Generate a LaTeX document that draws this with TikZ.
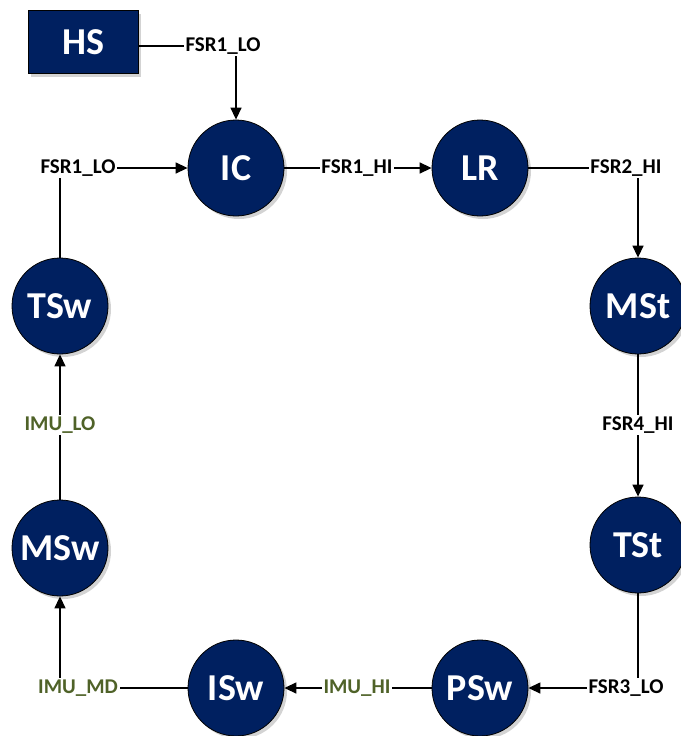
\documentclass[tikz,border=0pt]{standalone}
\usepackage{fontspec}
\setmainfont{Carlito}
\usetikzlibrary{arrows.meta,shadows}
\definecolor{navy}{HTML}{002060}
\definecolor{imugreen}{HTML}{4F6228}

\begin{document}
\begin{tikzpicture}[x=1pt,y=-1pt,->,>={Triangle[length=12pt,width=11pt]},line width=1.4pt]
	\tikzstyle{phase}=[circle,fill=navy,draw=black,line width=0.8pt,text=white,minimum size=96pt,inner sep=0pt,
		font=\fontsize{38}{42}\selectfont\bfseries,
		drop shadow={fill=black!50,opacity=0.35,shadow xshift=3pt,shadow yshift=-3pt}]
	\tikzstyle{start}=[phase,rectangle,minimum width=110pt,minimum height=63pt]
	\tikzstyle{fsr}=[font=\fontsize{21}{24}\selectfont\bfseries,inner sep=1pt,text=black]
	\tikzstyle{imu}=[fsr,text=imugreen]

	\useasboundingbox (0,0) rectangle (680,736);

	\node[start] (HS)  at (83,42)   {HS};
	\node[phase] (IC)  at (236,168) {IC};
	\node[phase] (LR)  at (480,168) {LR};
	\node[phase] (MSt) at (638,306) {MSt};
	\node[phase] (TSt) at (638,545) {TSt};
	\node[phase] (PSw) at (480,688) {PSw};
	\node[phase] (ISw) at (236,688) {ISw};
	\node[phase] (MSw) at (60,548)  {MSw};
	\node[phase] (TSw) at (60,306)  {TSw};

	\node[fsr] (hsic)   at (223,46)  {FSR1\_LO};
	\node[fsr] (tswic)  at (78,168)  {FSR1\_LO};
	\node[fsr] (iclr)   at (357,168) {FSR1\_HI};
	\node[fsr] (lrmst)  at (626,168) {FSR2\_HI};
	\node[fsr] (msttst) at (638,425) {FSR4\_HI};
	\node[fsr] (tstpsw) at (626,688) {FSR3\_LO};
	\node[imu] (pswisw) at (357,688) {IMU\_HI};
	\node[imu] (iswmsw) at (78,688)  {IMU\_MD};
	\node[imu] (mswtsw) at (60,425)  {IMU\_LO};

	\draw[-] (HS.east |- hsic) -- (hsic);
	\draw (hsic.south -| IC) -- (IC);
	\draw[-] (TSw) -- (tswic.south -| TSw);
	\draw (tswic) -- (IC);
	\draw[-] (IC) -- (iclr);
	\draw (iclr) -- (LR);
	\draw[-] (LR) -- (lrmst);
	\draw (lrmst.south -| MSt) -- (MSt);
	\draw[-] (MSt) -- (msttst);
	\draw (msttst) -- (TSt);
	\draw[-] (TSt) -- (tstpsw.north -| TSt);
	\draw (tstpsw) -- (PSw);
	\draw[-] (PSw) -- (pswisw);
	\draw (pswisw) -- (ISw);
	\draw[-] (ISw) -- (iswmsw);
	\draw (iswmsw.north -| MSw) -- (MSw);
	\draw[-] (MSw) -- (mswtsw);
	\draw (mswtsw) -- (TSw);
\end{tikzpicture}
\end{document}
